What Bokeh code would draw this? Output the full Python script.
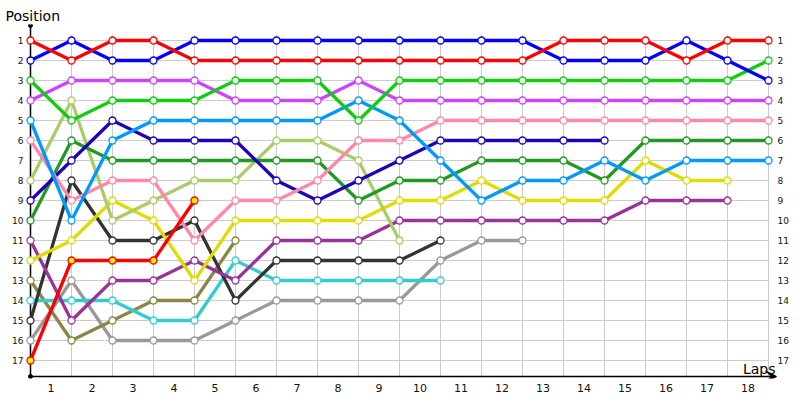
from bokeh.plotting import figure
from bokeh.models import Range1d, FixedTicker, LinearAxis, Label, Arrow, VeeHead
from bokeh.embed import file_html
from bokeh.resources import INLINE

# ---- data -------------------------------------------------------------
laps = list(range(0, 19))
positions = list(range(1, 18))
lap_labels = [str(i) for i in range(1, 19)]

red = [1, 2, 1, 1, 2, 2, 2, 2, 2, 2, 2, 2, 2, 1, 1, 1, 2, 1, 1]
blue = [2, 1, 2, 2, 1, 1, 1, 1, 1, 1, 1, 1, 1, 2, 2, 2, 1, 2, 3]
green = [3, 5, 4, 4, 4, 3, 3, 3, 5, 3, 3, 3, 3, 3, 3, 3, 3, 3, 2]
violet = [4, 3, 3, 3, 3, 4, 4, 4, 3, 4, 4, 4, 4, 4, 4, 4, 4, 4, 4]
sky = [5, 10, 6, 5, 5, 5, 5, 5, 4, 5, 7, 9, 8, 8, 7, 8, 7, 7, 7]
pink = [6, 9, 8, 8, 11, 9, 9, 8, 6, 6, 5, 5, 5, 5, 5, 5, 5, 5, 5]
navy = [9, 7, 5, 6, 6, 6, 8, 9, 8, 7, 6, 6, 6, 6, 6]
dkgreen = [10, 6, 7, 7, 7, 7, 7, 7, 9, 8, 8, 7, 7, 7, 8, 6, 6, 6, 6]
lime = [8, 4, 10, 9, 8, 8, 6, 6, 7, 11]
yellow = [12, 11, 9, 10, 13, 10, 10, 10, 10, 9, 9, 8, 9, 9, 9, 7, 8, 8]
plum = [11, 15, 13, 13, 12, 13, 11, 11, 11, 10, 10, 10, 10, 10, 10, 9, 9, 9]
charcoal = [15, 8, 11, 11, 10, 14, 12, 12, 12, 12, 11]
red2 = [17, 12, 12, 12, 9]
cyan = [14, 14, 14, 15, 15, 12, 13, 13, 13, 13, 13]
olive = [13, 16, 15, 14, 14, 11]
gray = [16, 13, 16, 16, 16, 15, 14, 14, 14, 14, 12, 11, 11]

# (values, line colour, marker fill)
series = [
    (gray, "#999999", "white"),
    (olive, "#888844", "white"),
    (cyan, "#33cccc", "white"),
    (charcoal, "#333333", "white"),
    (plum, "#993399", "white"),
    (yellow, "#dddd00", "white"),
    (lime, "#aacc66", "white"),
    (dkgreen, "#229922", "white"),
    (navy, "#2200bb", "white"),
    (pink, "#ff88aa", "white"),
    (sky, "#0099ff", "white"),
    (violet, "#cc44ff", "white"),
    (green, "#11cc11", "white"),
    (blue, "#0000ff", "white"),
    (red, "#ff0000", "white"),
    (red2, "#ff0000", "#ffee00"),
]

FONT = "DejaVu Sans"

p = figure(width=800, height=400, output_backend="svg", toolbar_location=None,
           x_range=Range1d(-0.122, 18.195), y_range=Range1d(17.9, 0.2),
           min_border_left=25, min_border_right=24, min_border_top=24, min_border_bottom=22,
           x_axis_location=None, y_axis_location=None, outline_line_color=None,
           background_fill_color="white", border_fill_color="white")
for g in p.grid:
    g.visible = False

p.title.text = "Position"
p.title.align = "left"
p.title.offset = -20
p.title.standoff = 1
p.title.text_font = FONT
p.title.text_font_size = "14px"
p.title.text_font_style = "normal"
p.title.text_color = "black"

# axes (tick labels only)
def y_axis(side, standoff):
    ax = LinearAxis(ticker=FixedTicker(ticks=positions),
                    axis_line_color=None, major_tick_line_color=None, minor_tick_line_color=None,
                    major_tick_in=0, major_tick_out=0, minor_tick_in=0, minor_tick_out=0,
                    major_label_standoff=standoff, major_label_text_font=FONT,
                    major_label_text_font_size="9px", major_label_text_color="#111111")
    p.add_layout(ax, side)

y_axis("left", 2)
y_axis("right", 1)

tick_pos = [l - 0.5 for l in laps[1:]]
xax = LinearAxis(ticker=FixedTicker(ticks=tick_pos),
                 major_label_overrides={t: s for t, s in zip(tick_pos, lap_labels)},
                 axis_line_color=None, major_tick_line_color=None, minor_tick_line_color=None,
                 major_tick_in=0, major_tick_out=0, minor_tick_in=0, minor_tick_out=0,
                 major_label_standoff=5, major_label_text_font=FONT,
                 major_label_text_font_size="11px", major_label_text_color="#111111")
p.add_layout(xax, "below")

# grid
top, bottom = 0.7, 17.8
p.segment(x0=laps[1:], y0=[top] * 18, x1=laps[1:], y1=[bottom] * 18,
          line_color="#cccccc", line_width=1)
p.segment(x0=[laps[0]] * len(positions), y0=positions, x1=[laps[-1]] * len(positions),
          y1=positions, line_color="#cccccc", line_width=1)

# axis lines
p.segment(x0=[0], y0=[0.25], x1=[0], y1=[bottom], line_color="black", line_width=1.5)
p.add_layout(Arrow(x_start=0, y_start=bottom, x_end=18.2, y_end=bottom,
                   line_color="black", line_width=1.5,
                   end=VeeHead(size=11, fill_color="black", line_color="black", line_width=1)))
p.scatter(x=[0, 0], y=[0.25, bottom], size=4, color="black")

# series lines then markers
for vals, col, fill in series:
    p.line(x=laps[:len(vals)], y=vals, line_color=col, line_width=3.3)
for vals, col, fill in series:
    p.scatter(x=laps[:len(vals)], y=vals, size=7, fill_color=fill, line_color=col,
              line_width=1.3)

p.add_layout(Label(x=18.17, y=17.4, text="Laps", text_font=FONT,
                   text_font_size="14px", text_baseline="alphabetic", text_align="right",
                   text_color="black"))

open("out.html", "w").write(file_html(p, INLINE))
